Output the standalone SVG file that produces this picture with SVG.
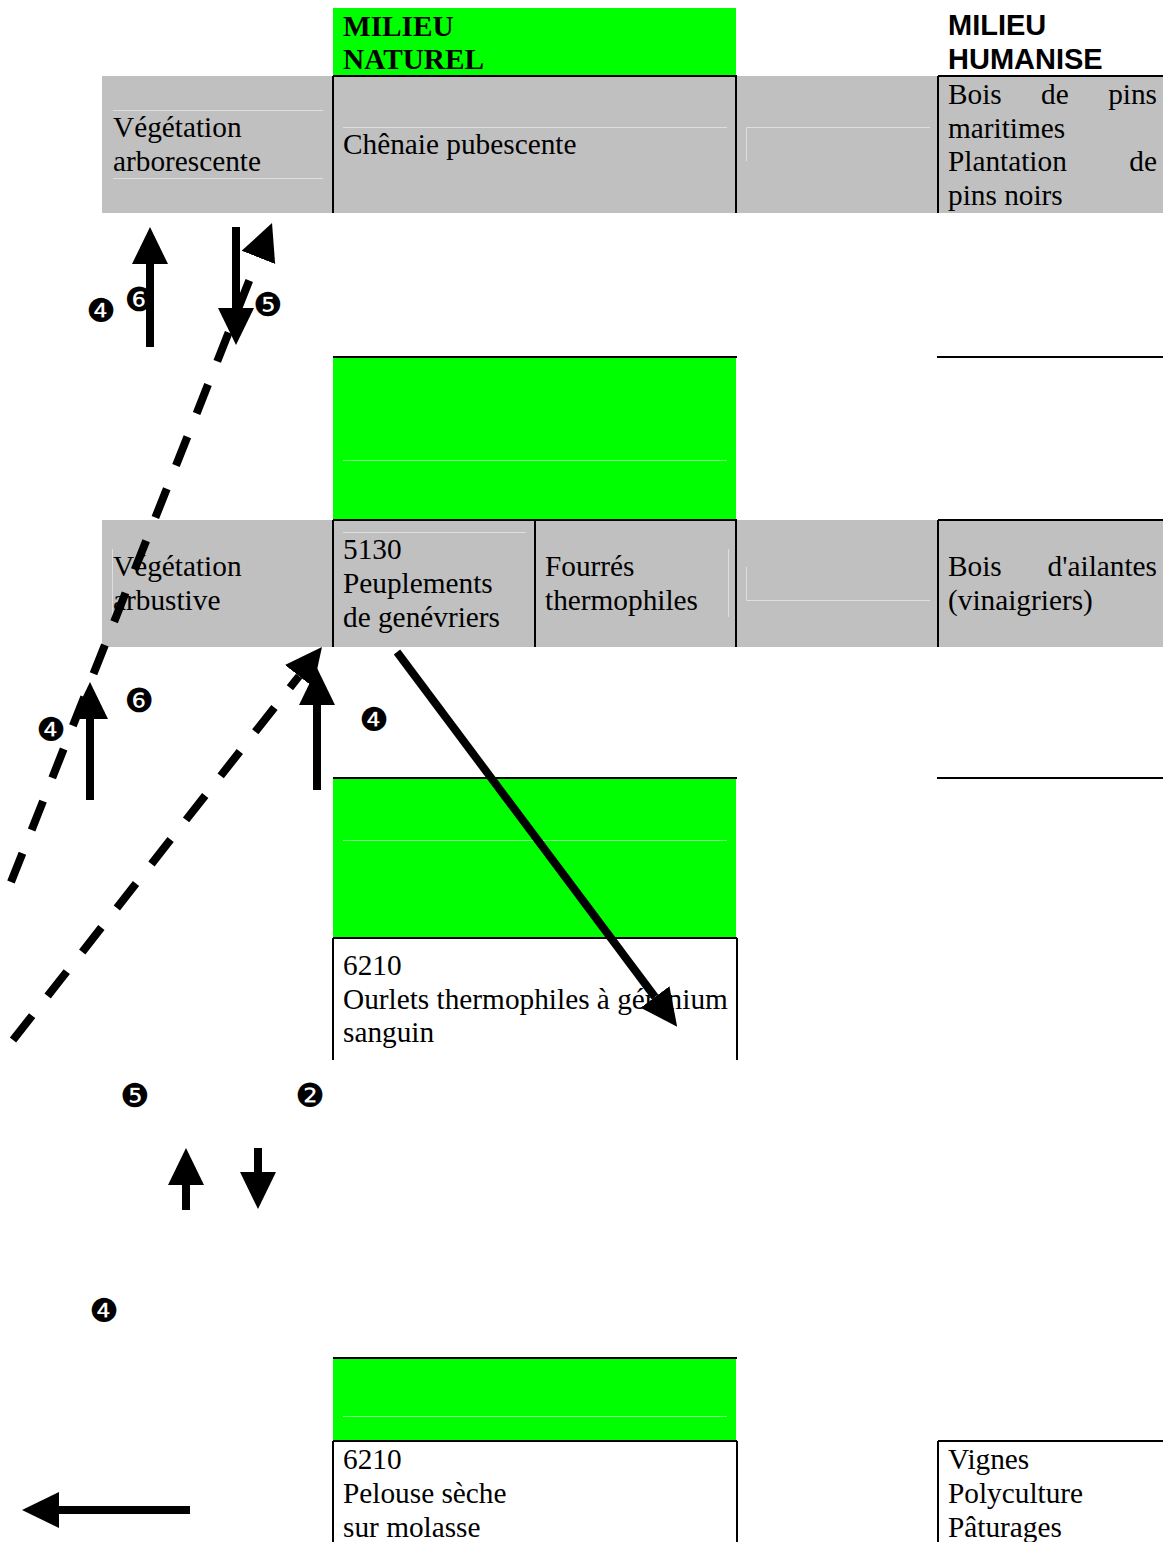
<svg xmlns="http://www.w3.org/2000/svg" width="1163" height="1542" viewBox="0 0 1163 1542">
<style>
.gray{fill:#c0c0c0}
.green{fill:#00ff00}
.bl{stroke:#000;stroke-width:2;fill:none}
.fg{stroke:#dedede;stroke-width:1;fill:none}
.fgg{stroke:#80ff80;stroke-width:1;fill:none}
.t{font-family:"Liberation Serif","Times New Roman",serif;font-size:29.3px;fill:#000}
.tb{font-family:"Liberation Serif","Times New Roman",serif;font-size:29.3px;font-weight:bold;fill:#000}
.ab{font-family:"Liberation Sans",Arial,sans-serif;font-size:29px;font-weight:bold;fill:#000}
.num{font-family:"DejaVu Sans",sans-serif;font-size:33px;fill:#000;text-anchor:middle;dominant-baseline:central}
.arr{stroke:#000;stroke-width:8;fill:none;marker-end:url(#head)}
.dash{stroke-dasharray:31 25}
</style>
<defs>
<marker id="head" markerUnits="userSpaceOnUse" markerWidth="40" markerHeight="40" refX="0" refY="20" orient="auto" viewBox="0 0 40 40">
<path d="M0,2 L37,20 L0,38 Z" fill="#000"/>
</marker>
</defs>
<rect width="1163" height="1542" fill="#fff"/>

<g id="header-naturel">
<rect class="green" x="333" y="8" width="403" height="68"/>
<text class="tb" x="343" y="36">MILIEU</text>
<text class="tb" x="343" y="69">NATUREL</text>
</g>
<g id="header-humanise">
<text class="ab" x="948" y="35">MILIEU</text>
<text class="ab" x="948" y="69">HUMANISE</text>
</g>

<g id="row1">
<rect class="gray" x="102" y="76" width="1061" height="137"/>
<path class="fg" d="M113,110.5H323M113,178.5H323M343,127.5H727M746.5,161V127.5H930"/>
<path class="bl" d="M333,76H737M938,76H1163M333,76V213M736,76V213M938,76V213"/>
</g>
<g id="veg-arborescente">
<text class="t" x="113" y="137">Végétation</text>
<text class="t" x="113" y="171">arborescente</text>
</g>
<g id="chenaie">
<text class="t" x="343" y="154">Chênaie pubescente</text>
</g>
<g id="pins">
<text class="t" x="948" y="104">Bois</text>
<text class="t" x="1041" y="104">de</text>
<text class="t" x="1157" y="104" text-anchor="end">pins</text>
<text class="t" x="948" y="138">maritimes</text>
<text class="t" x="948" y="171">Plantation</text>
<text class="t" x="1157" y="171" text-anchor="end">de</text>
<text class="t" x="948" y="205">pins noirs</text>
</g>

<g id="green2">
<rect class="green" x="333" y="357" width="403" height="163"/>
<path class="fgg" d="M343,460.5H727"/>
<path class="bl" d="M333,357H737M937,357H1163"/>
</g>

<g id="row2">
<rect class="gray" x="102" y="520" width="1061" height="127"/>
<path class="fg" d="M112.5,549V617M343,532.5H526M728.5,549V617M746.5,567V600.5H930"/>
<path class="bl" d="M333,520H737M938,520H1163M333,520V647M535,520V647M736,520V647M938,520V647"/>
</g>
<g id="veg-arbustive">
<text class="t" x="113" y="576">Végétation</text>
<text class="t" x="113" y="610">arbustive</text>
</g>
<g id="genevriers">
<text class="t" x="343" y="559">5130</text>
<text class="t" x="343" y="593">Peuplements</text>
<text class="t" x="343" y="627">de genévriers</text>
</g>
<g id="fourres">
<text class="t" x="545" y="576">Fourrés</text>
<text class="t" x="545" y="610">thermophiles</text>
</g>
<g id="ailantes">
<text class="t" x="948" y="576">Bois</text>
<text class="t" x="1157" y="576" text-anchor="end">d'ailantes</text>
<text class="t" x="948" y="610">(vinaigriers)</text>
</g>

<g id="green3">
<rect class="green" x="333" y="778" width="403" height="160"/>
<path class="fgg" d="M343,840.5H727"/>
<path class="bl" d="M333,778H737M937,778H1163"/>
</g>
<g id="ourlets">
<path class="bl" d="M333,938H737M333,938V1060M737,938V1060"/>
<text class="t" x="343" y="975">6210</text>
<text class="t" x="343" y="1009">Ourlets thermophiles à géranium</text>
<text class="t" x="343" y="1042">sanguin</text>
</g>

<g id="green4">
<rect class="green" x="333" y="1358" width="403" height="83"/>
<path class="fgg" d="M343,1416.5H727"/>
<path class="bl" d="M333,1358H737"/>
</g>
<g id="pelouse">
<path class="bl" d="M333,1441H737M333,1441V1542M737,1441V1542"/>
<text class="t" x="343" y="1469">6210</text>
<text class="t" x="343" y="1503">Pelouse sèche</text>
<text class="t" x="343" y="1537">sur molasse</text>
</g>
<g id="vignes">
<path class="bl" d="M938,1441H1163M938,1441V1542"/>
<text class="t" x="948" y="1469">Vignes</text>
<text class="t" x="948" y="1503">Polyculture</text>
<text class="t" x="948" y="1537">Pâturages</text>
</g>

<g id="connectors">
<line class="arr" x1="150" y1="347" x2="150" y2="264"/>
<line class="arr" x1="236" y1="227" x2="236" y2="308"/>
<line class="arr dash" x1="11" y1="882" x2="258.4" y2="257.4"/>
<line class="arr" x1="90" y1="800" x2="90" y2="719"/>
<line class="arr" x1="317" y1="790" x2="317" y2="705"/>
<line class="arr dash" x1="13" y1="1040" x2="299.1" y2="676.1"/>
<line class="arr" x1="397" y1="652" x2="655" y2="997"/>
<line class="arr" x1="186" y1="1210" x2="186" y2="1185"/>
<line class="arr" x1="258" y1="1148" x2="258" y2="1172"/>
<line class="arr" x1="190" y1="1510" x2="59" y2="1510"/>
</g>

<g id="labels">
<text class="num" x="101" y="310">❹</text>
<text class="num" x="139" y="299">❻</text>
<text class="num" x="268" y="304">❺</text>
<text class="num" x="139" y="700">❻</text>
<text class="num" x="51" y="729">❹</text>
<text class="num" x="374" y="719">❹</text>
<text class="num" x="135" y="1095">❺</text>
<text class="num" x="310" y="1095">❷</text>
<text class="num" x="104" y="1310">❹</text>
</g>
</svg>
